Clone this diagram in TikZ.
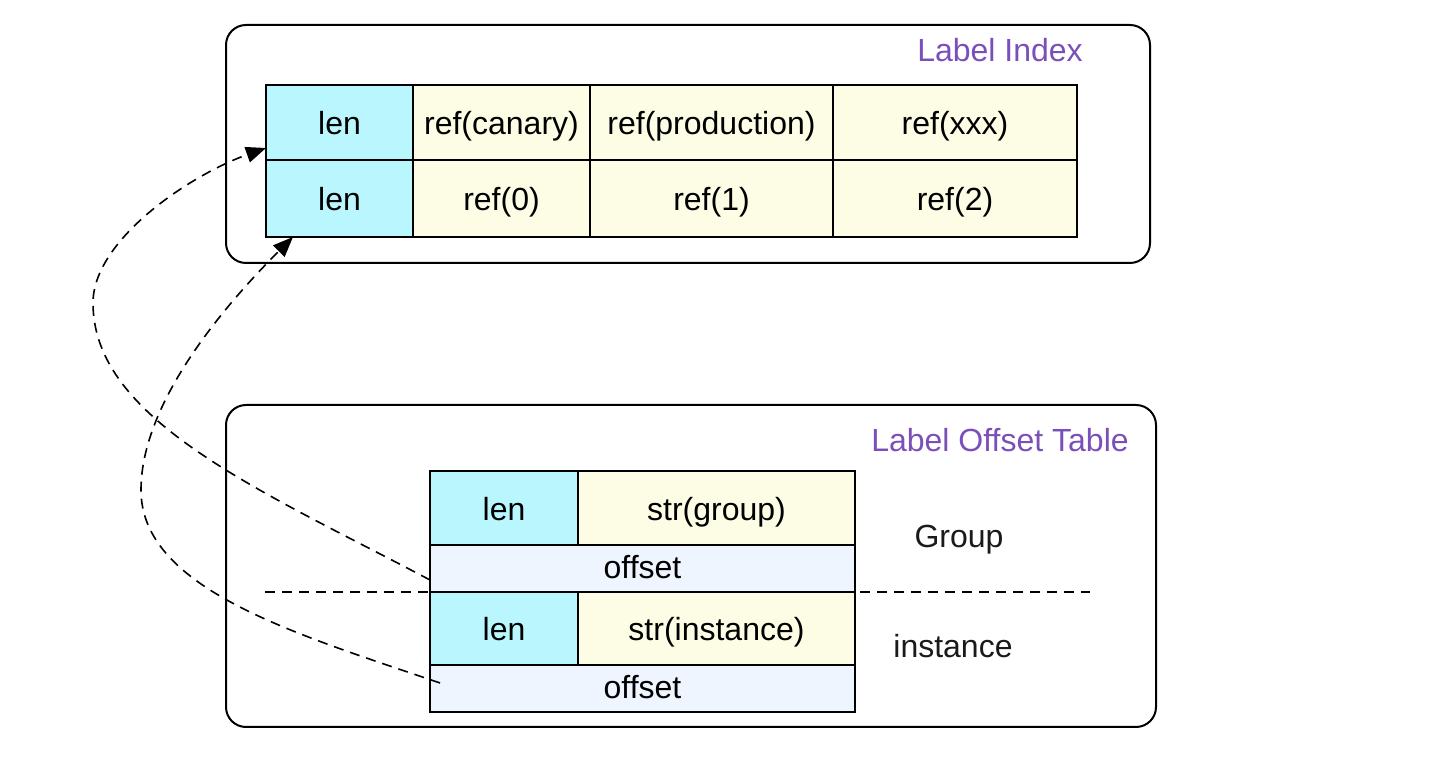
\documentclass[tikz,border=0pt]{standalone}
\usepackage{fontspec}
\setmainfont{Liberation Sans}
\usetikzlibrary{arrows.meta,calc}
\definecolor{lencol}{RGB}{186,246,254}
\definecolor{refcol}{RGB}{253,253,229}
\definecolor{offcol}{RGB}{238,245,255}
\definecolor{titlecol}{RGB}{123,79,186}
\definecolor{sidecol}{RGB}{26,26,26}
\begin{document}
\begin{tikzpicture}[x=0.5pt,y=-0.5pt,
  cell/.style={draw=black, line width=1pt, inner sep=0pt, outer sep=0pt, font=\fontsize{16}{19}\selectfont, text=black, text height=15pt, text depth=2.5pt},
  lencell/.style={cell, fill=lencol},
  refcell/.style={cell, fill=refcol},
  offcell/.style={cell, fill=offcol, text height=13pt, text depth=2.5pt},
  outerbox/.style={draw=black, line width=1pt, rounded corners=10pt},
  title/.style={font=\fontsize{16}{19}\selectfont, text=titlecol, inner sep=0pt, anchor=base},
  side/.style={font=\fontsize{16}{19}\selectfont, text=sidecol, inner sep=0pt, anchor=base},
  link/.style={draw=black, line width=0.8pt, dash pattern=on 5pt off 3.5pt, -{Triangle[length=10pt,width=8pt]}},
  sepline/.style={draw=black, line width=0.8pt, dash pattern=on 5pt off 3.5pt}
]
\useasboundingbox (0,0) rectangle (1442,774);
% outer boxes
\draw[outerbox] (226,25) rectangle (1150,263);
\draw[outerbox] (226,405) rectangle (1156,727);
\node[title] (t1) at (1000,62) {Label Index};
\node[title] (t2) at (1000,452) {Label Offset Table};
% separator
\coordinate (sepL) at (265,592);
\coordinate (sepR) at (1090,592);
\draw[sepline] (sepL) -- (sepR);
% top table
\node[lencell, minimum width=73.5pt, minimum height=37.5pt] (len1) at (339.5,122.5) {len};
\node[refcell, minimum width=88.5pt, minimum height=37.5pt] (rc) at (501.5,122.5) {ref(canary)};
\node[refcell, minimum width=121.5pt, minimum height=37.5pt] (rp) at (711.5,122.5) {ref(production)};
\node[refcell, minimum width=122pt, minimum height=37.5pt] (rx) at (955,122.5) {ref(xxx)};
\node[lencell, minimum width=73.5pt, minimum height=38.5pt] (len2) at (339.5,198.5) {len};
\node[refcell, minimum width=88.5pt, minimum height=38.5pt] (r0) at (501.5,198.5) {ref(0)};
\node[refcell, minimum width=121.5pt, minimum height=38.5pt] (r1) at (711.5,198.5) {ref(1)};
\node[refcell, minimum width=122pt, minimum height=38.5pt] (r2) at (955,198.5) {ref(2)};
% bottom table
\node[lencell, minimum width=74pt, minimum height=37pt] (blen1) at (504,508) {len};
\node[refcell, minimum width=138.5pt, minimum height=37pt] (bstr1) at (716.5,508) {str(group)};
\node[offcell, minimum width=212.5pt, minimum height=23.5pt] (off1) at (642.5,568.5) {offset};
\node[lencell, minimum width=74pt, minimum height=36.5pt] (blen2) at (504,628.5) {len};
\node[refcell, minimum width=138.5pt, minimum height=36.5pt] (bstr2) at (716.5,628.5) {str(instance)};
\node[offcell, minimum width=212.5pt, minimum height=23.5pt] (off2) at (642.5,688.5) {offset};
% side labels
\node[side] (grp) at (959,548) {Group};
\node[side] (inst) at (953,658) {instance};
% links
\draw[link] ([yshift=6pt]off1.south west) .. controls (260,490) and (93,420) .. (93,303)
  .. controls (93,240) and (190,175) .. ([yshift=6pt]len1.south west);
\draw[link] ([xshift=5pt,yshift=2.75pt]off2.west) .. controls (300,635) and (141,590) .. (141,490)
  .. controls (141,400) and (230,300) .. ([xshift=13.5pt]len2.south west);
\end{tikzpicture}
\end{document}
